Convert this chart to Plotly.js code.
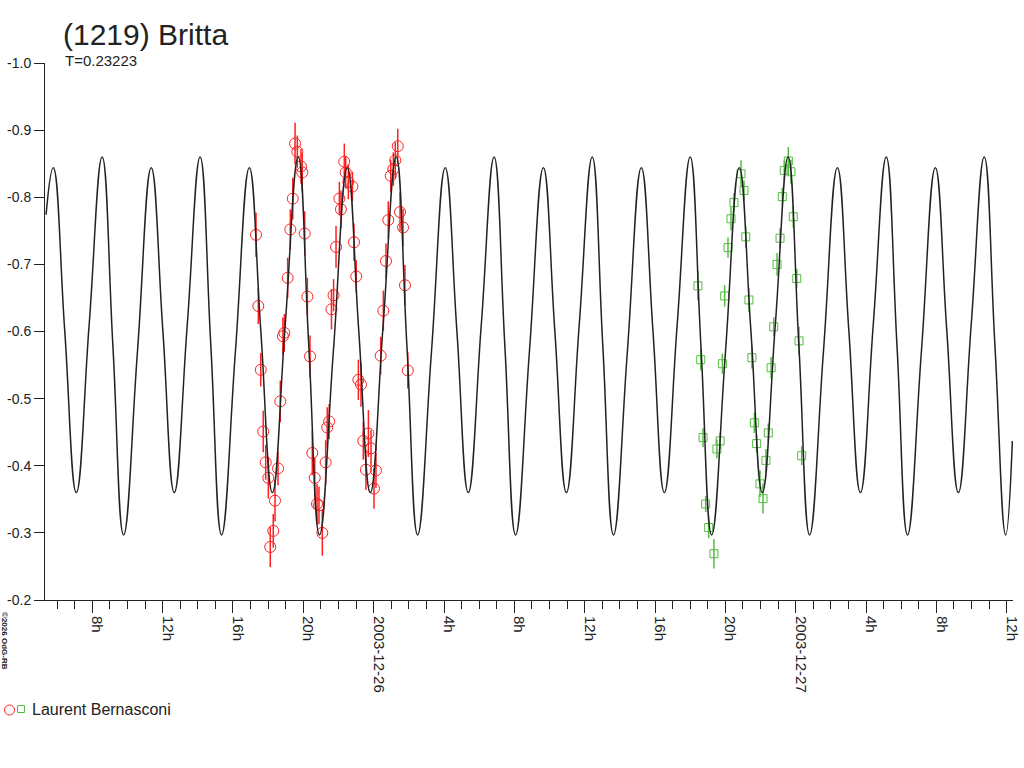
<!DOCTYPE html>
<html>
<head>
<meta charset="utf-8">
<script src="https://cdn.plot.ly/plotly-3.0.1.min.js"></script>
<style>
  html, body { margin: 0; padding: 0; background: #fff; }
  #chart { width: 1024px; height: 768px; }
</style>
</head>
<body>
<div id="chart"></div>
<script>
// heures depuis 2003-12-25 00:00 UT

// courbe de lumière (extrema et points milieu)
const curveHours = [5.37,
  5.78, 6.43, 7.09, 7.82, 8.56, 9.17, 9.78, 10.57,
  11.35, 12.01, 12.66, 13.40, 14.13, 14.74, 15.35, 16.14,
  16.93, 17.58, 18.24, 18.97, 19.71, 20.31, 20.92, 21.71,
  22.50, 23.15, 23.81, 24.54, 25.28, 25.89, 26.50, 27.29,
  28.07, 28.73, 29.38, 30.12, 30.85, 31.46, 32.07, 32.86,
  33.65, 34.30, 34.96, 35.69, 36.43, 37.03, 37.64, 38.43,
  39.22, 39.88, 40.53, 41.26, 42.00, 42.61, 43.22, 44.01,
  44.79, 45.45, 46.10, 46.84, 47.57, 48.18, 48.79, 49.58,
  50.37, 51.02, 51.68, 52.41, 53.15, 53.76, 54.36, 55.15,
  55.94, 56.59, 57.25, 57.98, 58.72, 59.33, 59.94,
  60.32];
const curveMag = [-0.774,
  -0.844, -0.602, -0.360, -0.610, -0.860, -0.579, -0.297, -0.571,
  -0.844, -0.602, -0.360, -0.610, -0.860, -0.579, -0.297, -0.571,
  -0.844, -0.602, -0.360, -0.610, -0.860, -0.579, -0.297, -0.571,
  -0.844, -0.602, -0.360, -0.610, -0.860, -0.579, -0.297, -0.571,
  -0.844, -0.602, -0.360, -0.610, -0.860, -0.579, -0.297, -0.571,
  -0.844, -0.602, -0.360, -0.610, -0.860, -0.579, -0.297, -0.571,
  -0.844, -0.602, -0.360, -0.610, -0.860, -0.579, -0.297, -0.571,
  -0.844, -0.602, -0.360, -0.610, -0.860, -0.579, -0.297, -0.571,
  -0.844, -0.602, -0.360, -0.610, -0.860, -0.579, -0.297, -0.571,
  -0.844, -0.602, -0.360, -0.610, -0.860, -0.579, -0.297,
  -0.437];

// nuit du 25 au 26 (cercles rouges)
const redHours = [17.31, 17.44, 17.58, 17.72, 17.86, 18.01, 18.12, 18.29, 18.39, 18.56,
  18.69, 18.84, 18.92, 19.11, 19.26, 19.40, 19.53, 19.66, 19.87, 19.94,
  20.08, 20.23, 20.38, 20.51, 20.65, 20.78, 20.89, 21.08, 21.27, 21.36,
  21.47, 21.60, 21.72, 21.86, 22.05, 22.14, 22.33, 22.41, 22.56, 22.79,
  22.88, 23.01, 23.13, 23.28, 23.41, 23.56, 23.70, 23.85, 24.02, 24.13,
  24.40, 24.55, 24.70, 24.83, 24.97, 25.12, 25.23, 25.37, 25.50, 25.67,
  25.78, 25.94];
const redMag = [-0.744, -0.638, -0.543, -0.451, -0.405, -0.382, -0.279, -0.303, -0.348, -0.396,
  -0.496, -0.593, -0.598, -0.680, -0.752, -0.798, -0.880, -0.868, -0.846, -0.837,
  -0.746, -0.652, -0.563, -0.419, -0.382, -0.343, -0.341, -0.300, -0.405, -0.457,
  -0.466, -0.633, -0.654, -0.726, -0.798, -0.782, -0.853, -0.837, -0.823, -0.816,
  -0.733, -0.682, -0.528, -0.521, -0.437, -0.394, -0.448, -0.426, -0.366, -0.393,
  -0.564, -0.631, -0.705, -0.766, -0.832, -0.842, -0.855, -0.876, -0.778, -0.755,
  -0.669, -0.542];
const redErr = [0.033, 0.027, 0.025, 0.031, 0.026, 0.031, 0.030, 0.025, 0.031, 0.025,
  0.031, 0.028, 0.028, 0.030, 0.030, 0.031, 0.031, 0.024, 0.026, 0.028,
  0.033, 0.028, 0.031, 0.033, 0.030, 0.030, 0.028, 0.034, 0.033, 0.030,
  0.026, 0.030, 0.024, 0.031, 0.025, 0.028, 0.027, 0.024, 0.026, 0.022,
  0.028, 0.024, 0.030, 0.033, 0.028, 0.030, 0.035, 0.027, 0.030, 0.026,
  0.028, 0.030, 0.026, 0.028, 0.024, 0.025, 0.027, 0.026, 0.029, 0.028,
  0.030, 0.027];

// nuit du 26 au 27 (carrés verts)
const greenHours = [42.44, 42.60, 42.73, 42.88, 43.05, 43.35, 43.52, 43.70, 43.83, 43.96,
  44.15, 44.32, 44.49, 44.89, 45.06, 45.16, 45.34, 45.51, 45.65, 45.78,
  45.97, 46.14, 46.31, 46.44, 46.60, 46.75, 46.94, 47.11, 47.24, 47.35,
  47.58, 47.73, 47.86, 48.06, 48.19, 48.34];
const greenMag = [-0.668, -0.558, -0.442, -0.343, -0.308, -0.269, -0.425, -0.437, -0.552, -0.653,
  -0.725, -0.768, -0.792, -0.835, -0.810, -0.741, -0.647, -0.561, -0.464, -0.433,
  -0.373, -0.351, -0.408, -0.449, -0.546, -0.607, -0.700, -0.739, -0.801, -0.840,
  -0.854, -0.838, -0.771, -0.679, -0.586, -0.415];
const greenErr = [0.022, 0.016, 0.014, 0.012, 0.016, 0.022, 0.014, 0.012, 0.015, 0.016,
  0.015, 0.017, 0.014, 0.020, 0.015, 0.016, 0.018, 0.016, 0.015, 0.013,
  0.020, 0.022, 0.017, 0.014, 0.016, 0.014, 0.017, 0.015, 0.013, 0.015,
  0.021, 0.018, 0.016, 0.014, 0.021, 0.014];

const xTickVals = [8, 12, 16, 20, 24, 28, 32, 36, 40, 44, 48, 52, 56, 60];
const xTickText = ['8h', '12h', '16h', '20h', '2003-12-26', '4h', '8h', '12h', '16h', '20h', '2003-12-27', '4h', '8h', '12h'];
const yTickVals = [-1.0, -0.9, -0.8, -0.7, -0.6, -0.5, -0.4, -0.3, -0.2];
const yTickText = ['-1.0', '-0.9', '-0.8', '-0.7', '-0.6', '-0.5', '-0.4', '-0.3', '-0.2'];

const RED = '#ff2020';
const GREEN = '#55bb44';
const INK = '#222222';
const FONT = 'Liberation Sans, Arial, sans-serif';

let trRed = { x: redHours, y: redMag, type: 'scatter', mode: 'markers',
  marker: { symbol: 'circle-open', size: 11, color: RED, line: { width: 1, color: RED } },
  error_y: { type: 'data', array: redErr, visible: true, color: RED, thickness: 1.5, width: 0 },
  hoverinfo: 'skip' };
let trGreen = { x: greenHours, y: greenMag, type: 'scatter', mode: 'markers',
  marker: { symbol: 'square-open', size: 8, color: GREEN, line: { width: 1, color: GREEN } },
  error_y: { type: 'data', array: greenErr, visible: true, color: GREEN, thickness: 1.5, width: 0 },
  hoverinfo: 'skip' };
let trCurve = { x: curveHours, y: curveMag, type: 'scatter', mode: 'lines',
  line: { color: INK, width: 1.5, shape: 'spline', smoothing: 1.3 }, hoverinfo: 'skip' };

// coordonnées papier pour la zone de tracé (45..1013, 63..600)
const px = v => (v - 45) / 968;
const py = v => (600 - v) / 537;

let layout = {
  width: 1024, height: 768,
  margin: { l: 45, r: 11, t: 63, b: 168 },
  paper_bgcolor: '#fff', plot_bgcolor: '#fff',
  showlegend: false,
  font: { family: FONT, color: INK, size: 14 },
  title: { text: '(1219) Britta', font: { family: FONT, size: 30, color: INK },
           x: 63 / 1024, xanchor: 'left', xref: 'container',
           y: 1 - 34 / 768, yanchor: 'middle', yref: 'container' },
  xaxis: { range: [5.31, 60.357], showgrid: false, zeroline: false,
           showline: true, linecolor: INK, linewidth: 1,
           ticks: 'outside', ticklen: 12, tickcolor: INK, tickwidth: 1,
           tickmode: 'array', tickvals: xTickVals, ticktext: xTickText, tickangle: 90,
           ticklabelshift: 5,
           tickfont: { family: FONT, size: 15, color: INK },
           minor: { tickmode: 'linear', tick0: 0, dtick: 1, ticks: 'outside', ticklen: 8, tickcolor: INK, tickwidth: 1, showgrid: false } },
  yaxis: { range: [-0.2, -1.0], showgrid: false, zeroline: false,
           showline: true, linecolor: INK, linewidth: 1,
           ticks: 'outside', ticklen: 10, tickcolor: INK, tickwidth: 1,
           tickmode: 'array', tickvals: yTickVals, ticktext: yTickText,
           tickfont: { family: FONT, size: 14, color: INK } },
  annotations: [
    { text: 'T=0.23223', xref: 'paper', yref: 'paper', x: px(63), y: py(61),
      xanchor: 'left', yanchor: 'middle', showarrow: false,
      font: { family: FONT, size: 15, color: INK } },
    { text: 'Laurent Bernasconi', xref: 'paper', yref: 'paper', x: px(30), y: py(709),
      xanchor: 'left', yanchor: 'middle', showarrow: false,
      font: { family: FONT, size: 16, color: INK } },
    { text: '<b>©2026 OdG-RB</b>', xref: 'paper', yref: 'paper', x: px(5), y: py(641),
      xanchor: 'center', yanchor: 'middle', showarrow: false, textangle: 90,
      font: { family: FONT, size: 8, color: INK } }
  ],
  shapes: [
    { type: 'circle', xref: 'paper', yref: 'paper', xsizemode: 'pixel', ysizemode: 'pixel',
      xanchor: px(9.5), yanchor: py(710), x0: -5, x1: 5, y0: -5, y1: 5,
      line: { color: RED, width: 1 } },
    { type: 'rect', xref: 'paper', yref: 'paper', xsizemode: 'pixel', ysizemode: 'pixel',
      xanchor: px(21), yanchor: py(709), x0: -3.5, x1: 3.5, y0: -3.5, y1: 3.5,
      line: { color: GREEN, width: 1 } }
  ]
};

Plotly.newPlot('chart', [trRed, trGreen, trCurve], layout, { staticPlot: true });
</script>
</body>
</html>
